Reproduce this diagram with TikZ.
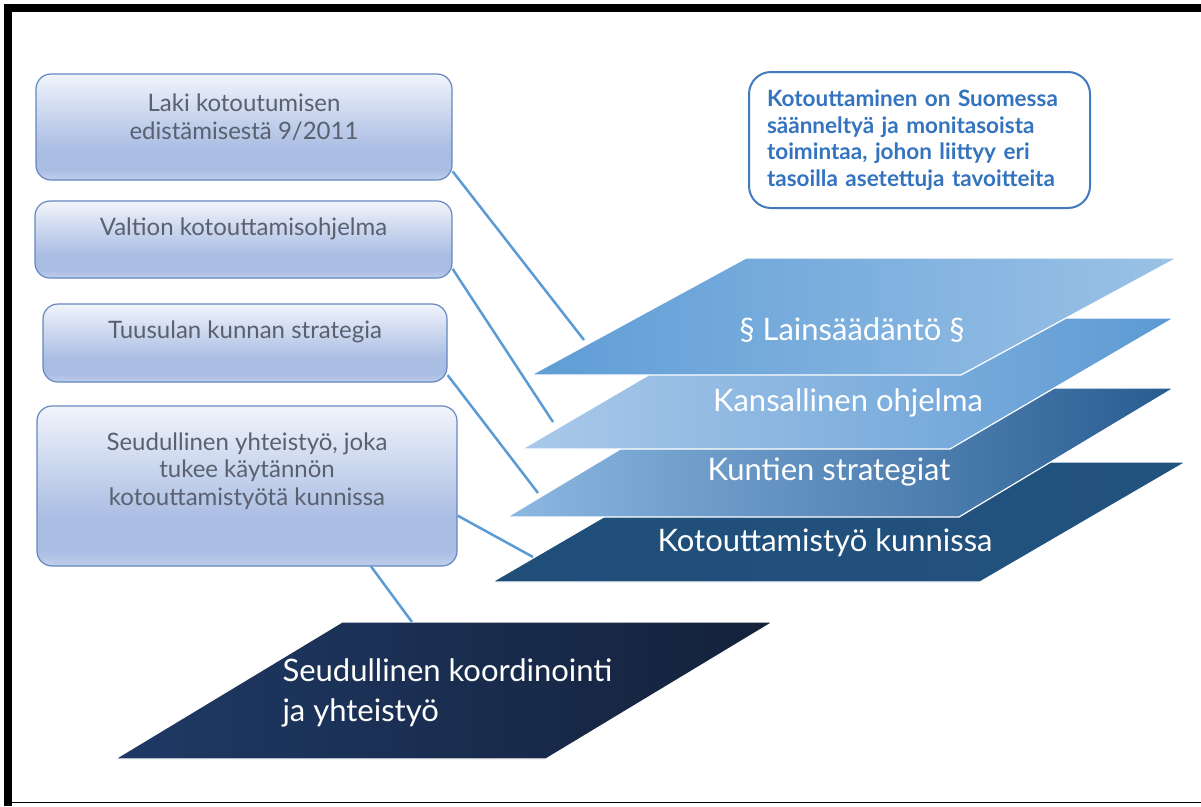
\documentclass[tikz,border=0pt]{standalone}
\usepackage{fontspec}
\setmainfont{Lato}
\usetikzlibrary{calc}
\definecolor{linkblue}{RGB}{91,155,213}
\definecolor{boxtop}{RGB}{241,244,251}
\definecolor{boxbot}{RGB}{170,189,227}
\definecolor{boxlow}{RGB}{192,206,236}
\definecolor{boxline}{RGB}{100,135,190}
\definecolor{boxgray}{RGB}{90,96,110}
\definecolor{notetext}{RGB}{52,116,190}
\definecolor{noteline}{RGB}{64,122,192}
\definecolor{p1left}{RGB}{95,157,214}
\definecolor{p1right}{RGB}{155,194,230}
\definecolor{p2left}{RGB}{170,201,233}
\definecolor{p2right}{RGB}{92,154,212}
\definecolor{p3left}{RGB}{140,184,226}
\definecolor{p3mid}{RGB}{96,158,214}
\definecolor{p3right}{RGB}{40,92,145}
\definecolor{p4left}{RGB}{31,78,121}
\definecolor{p4right}{RGB}{34,82,126}
\definecolor{p5left}{RGB}{31,58,102}
\definecolor{p5right}{RGB}{20,33,58}
\pgfdeclareverticalshading{boxshade}{100bp}{color(0bp)=(boxlow); color(25bp)=(boxlow);
        color(30bp)=(boxbot); color(40bp)=(boxbot); color(75bp)=(boxtop); color(100bp)=(boxtop)}
\tikzset{ box/.style = { rectangle % text box on the left
        , rounded corners = 15pt
        , draw = boxline
        , line width = 1.2pt
        , shading = boxshade
        }
        , boxtext/.style = { align = center % text inside a box
        , text = boxgray
        , font = \fontsize{24}{27.5}\selectfont
        }
        , note/.style = { rectangle % note at the top right
        , rounded corners = 22pt
        , draw = noteline
        , line width = 2pt
        , fill = white
        , minimum width = 341
        , minimum height = 136
        , text width = 305
        , align = left
        , text = notetext
        , font = \bfseries\fontsize{22.5}{26.5}\selectfont
        }
        , layer_text/.style = { text = white % label on a layer
        , font = \fontsize{31}{40}\selectfont
        }
        }

\begin{document}
\begin{tikzpicture}[x=1pt, y=-1pt,
        link_style/.style={draw=linkblue, line width=2.5pt},
        plane_style/.style={draw=white, line width=1.2pt}]
        \useasboundingbox (0,0) rectangle (1201,806);
        % frame
        \fill[black] (4,4) rectangle (1201,12);
        \fill[black] (4,4) rectangle (12,806);
        \draw[line width=1pt] (12,802) -- (1201,802);

        % corners of the layers
        \coordinate (p1_tl) at (746,258); \coordinate (p1_tr) at (1177,258);
        \coordinate (p1_br) at (961,375); \coordinate (p1_bl) at (531,375);
        \coordinate (p2_tl) at (746,318); \coordinate (p2_tr) at (1174,318);
        \coordinate (p2_br) at (950,449); \coordinate (p2_bl) at (522,449);
        \coordinate (p3_tl) at (722,388); \coordinate (p3_tr) at (1174,388);
        \coordinate (p3_br) at (959,517); \coordinate (p3_bl) at (507,517);
        \coordinate (p4_tl) at (698,462); \coordinate (p4_tr) at (1186,462);
        \coordinate (p4_br) at (980,582); \coordinate (p4_bl) at (492,582);
        \coordinate (p5_tl) at (342,622); \coordinate (p5_tr) at (773,622);
        \coordinate (p5_br) at (546,759); \coordinate (p5_bl) at (115,759);

        \shadedraw[plane_style, left color=p4left, right color=p4right] (p4_tl) -- (p4_tr) -- (p4_br) -- (p4_bl) -- cycle;
        \shadedraw[plane_style, left color=p3left, middle color=p3mid, right color=p3right] (p3_tl) -- (p3_tr) -- (p3_br) -- (p3_bl) -- cycle;
        \shadedraw[plane_style, left color=p2left, right color=p2right] (p2_tl) -- (p2_tr) -- (p2_br) -- (p2_bl) -- cycle;
        \shadedraw[plane_style, left color=p1left, right color=p1right] (p1_tl) -- (p1_tr) -- (p1_br) -- (p1_bl) -- cycle;
        \shadedraw[plane_style, left color=p5left, right color=p5right] (p5_tl) -- (p5_tr) -- (p5_br) -- (p5_bl) -- cycle;

        \node[layer_text] (law) at (852,330) {§ Lainsäädäntö §};
        \node[layer_text] (national) at (848,403) {Kansallinen ohjelma};
        \node[layer_text] (strategy) at (829,472) {Kuntien strategiat};
        \node[layer_text] (work) at (825,543) {Kotouttamistyö kunnissa};
        \node[layer_text, align=left, anchor=west] (coord) at (279,693) {Seudullinen koordinointi\\ja yhteistyö};

        % boxes on the left
        \node[box, minimum width=416, minimum height=106,
                label={[boxtext, yshift=10]center:{Laki kotoutumisen\\edistämisestä 9/2011}}] (laki) at (244,127) {};
        \node[box, minimum width=417, minimum height=77,
                label={[boxtext, yshift=11]center:{Valtion kotouttamisohjelma}}] (valtio) at (243.5,239.5) {};
        \node[box, minimum width=404, minimum height=78,
                label={[boxtext, yshift=11]center:{Tuusulan kunnan strategia}}] (tuusula) at (245,343) {};
        \node[box, minimum width=420, minimum height=160,
                label={[boxtext, yshift=15]center:{Seudullinen yhteistyö, joka\\tukee käytännön\\kotouttamistyötä kunnissa}}] (seutu) at (247,486) {};

        \node[note] (info) at (919.5,140) {Kotouttaminen on Suomessa\\säänneltyä ja monitasoista\\toimintaa, johon liittyy eri\\tasoilla asetettuja tavoitteita};

        % connectors
        \coordinate (law_in) at (584,340);
        \coordinate (national_in) at (553,422);
        \coordinate (strategy_in) at (538,493);
        \coordinate (work_in) at (533,557);
        \coordinate (coord_in) at (412,622);
        \draw [link_style] (laki.-12) -- (law_in);
        \draw [link_style] (valtio.-8) -- (national_in);
        \draw [link_style] (tuusula.-9) -- (strategy_in);
        \draw [link_style] (seutu.-8) -- (work_in);
        \draw [link_style] (seutu.-33) -- (coord_in);
\end{tikzpicture}
\end{document}
